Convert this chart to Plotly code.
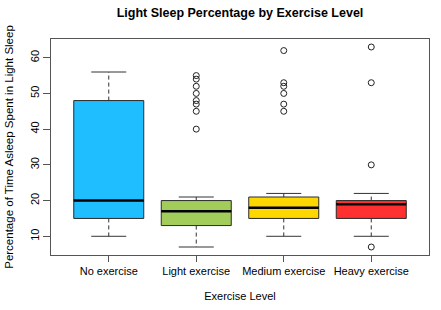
import plotly.graph_objects as go

categories = ["No exercise", "Light exercise", "Medium exercise", "Heavy exercise"]
colors = ["#1EBEFF", "#A2CD5A", "#FFD700", "#FF3030"]
lower_whisker = [10, 7, 10, 10]
q1 = [15, 13, 15, 15]
median = [20, 17, 18, 19]
q3 = [48, 20, 21, 20]
upper_whisker = [56, 21, 22, 22]
outliers = [
    [],
    [55, 54, 52, 50, 48, 47, 45, 40],
    [62, 53, 52, 50, 47, 45],
    [63, 53, 30, 7],
]
y_ticks = [10, 20, 30, 40, 50, 60]

positions = list(range(1, len(categories) + 1))
box_w = 0.8
staple_half = box_w / 4

fig = go.Figure()

for i, cat in enumerate(categories):
    fig.add_trace(go.Box(
        x=[positions[i]], q1=[q1[i]], median=[median[i]], q3=[q3[i]],
        lowerfence=[q1[i]], upperfence=[q3[i]],
        width=box_w, fillcolor=colors[i],
        line=dict(color="#2a2a2a", width=1), whiskerwidth=0,
        boxpoints=False, showlegend=False, hoverinfo="skip", name=cat,
    ))

# dashed whiskers
wx, wy = [], []
for i in range(len(categories)):
    p = positions[i]
    wx += [p, p, None, p, p, None]
    wy += [q3[i], upper_whisker[i], None, q1[i], lower_whisker[i], None]
fig.add_trace(go.Scatter(x=wx, y=wy, mode="lines",
                         line=dict(color="#333333", width=1, dash="4px,3px"),
                         showlegend=False, hoverinfo="skip"))

# staples
sx, sy = [], []
for i in range(len(categories)):
    p = positions[i]
    for v in (upper_whisker[i], lower_whisker[i]):
        sx += [p - staple_half, p + staple_half, None]
        sy += [v, v, None]
fig.add_trace(go.Scatter(x=sx, y=sy, mode="lines",
                         line=dict(color="#333333", width=1),
                         showlegend=False, hoverinfo="skip"))

# medians
mx, my = [], []
for i in range(len(categories)):
    p = positions[i]
    mx += [p - box_w / 2, p + box_w / 2, None]
    my += [median[i], median[i], None]
fig.add_trace(go.Scatter(x=mx, y=my, mode="lines",
                         line=dict(color="#000000", width=2.5),
                         showlegend=False, hoverinfo="skip"))

# outliers
ox, oy = [], []
for i in range(len(categories)):
    for v in outliers[i]:
        ox.append(positions[i])
        oy.append(v)
fig.add_trace(go.Scatter(x=ox, y=oy, mode="markers",
                         marker=dict(symbol="circle-open", size=6, color="#222222",
                                     line=dict(width=1)),
                         showlegend=False, hoverinfo="skip"))

font_family = "Liberation Sans, Arial, sans-serif"
fig.update_layout(
    width=441, height=310,
    margin=dict(l=51, r=12, t=39, b=55),
    plot_bgcolor="white", paper_bgcolor="white",
    font=dict(family=font_family, size=11, color="black"),
    title=dict(text="<b>Light Sleep Percentage by Exercise Level</b>",
               x=0.5, xref="paper", y=1 - 13 / 310, yref="container",
               yanchor="middle", xanchor="center",
               font=dict(size=12.5, family=font_family, color="black")),
    xaxis=dict(range=[0.34, 4.66], tickvals=positions, ticktext=categories,
               tickangle=0, automargin=False, tickfont=dict(size=11),
               showgrid=False, zeroline=False, showline=True, mirror=True,
               linecolor="#555555", linewidth=1, ticks="outside", ticklen=6,
               tickcolor="#555555",
               title=dict(text="Exercise Level", standoff=16,
                          font=dict(size=11))),
    yaxis=dict(range=[4.76, 65.24], tickvals=y_ticks, tickangle=-90,
               automargin=False, tickfont=dict(size=11),
               showgrid=False, zeroline=False, showline=True, mirror=True,
               linecolor="#555555", linewidth=1, ticks="outside", ticklen=7,
               tickcolor="#555555",
               title=dict(text="Percentage of Time Asleep Spent in Light Sleep",
                          standoff=12, font=dict(size=11.5))),
)

fig.write_html("out.html")
